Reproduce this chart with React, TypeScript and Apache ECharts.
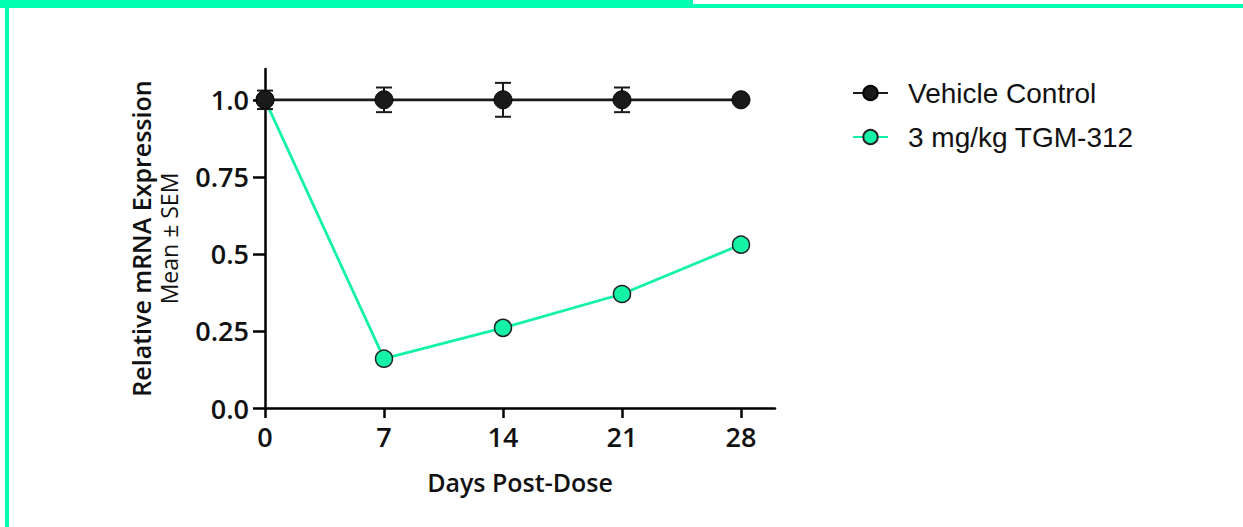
import React, { useEffect, useRef } from "react";
import * as echarts from "echarts";

const days = [0, 7, 14, 21, 28];
const xTickLabels = ["0", "7", "14", "21", "28"];
const yTickValues = [0, 0.25, 0.5, 0.75, 1.0];
const yTickLabels = ["0.0", "0.25", "0.5", "0.75", "1.0"];
const vehicleMean = [1.0, 1.0, 1.0, 1.0, 1.0];
const vehicleSEM = [0.03, 0.04, 0.055, 0.04, 0.0];
const tgmMean = [1.0, 0.16, 0.26, 0.37, 0.53];
const seriesNames = ["Vehicle Control", "3 mg/kg TGM-312"];

const GREEN = "#00FFB0";
const LINE_GREEN = "#14F2A6";
const DARK = "#1a1a1a";
const FONT = "Open Sans";

export default function App() {
  const ref = useRef<HTMLDivElement>(null);
  useEffect(() => {
    if (!ref.current) return;
    const chart = echarts.init(ref.current, null, { renderer: "svg" });
    const axisLineStyle = { color: "#000", width: 2.5 };
    chart.setOption({
      animation: false,
      backgroundColor: "#fff",
      graphic: [
        { type: "rect", shape: { x: 0, y: 0, width: 693, height: 8 }, style: { fill: GREEN }, silent: true },
        { type: "rect", shape: { x: 693, y: 4, width: 550, height: 4 }, style: { fill: GREEN }, silent: true },
        { type: "rect", shape: { x: 5, y: 0, width: 4, height: 527 }, style: { fill: GREEN }, silent: true },
      ],
      grid: { left: 265, right: 468, top: 69, bottom: 119, containLabel: false },
      legend: {
        orient: "vertical",
        left: 852,
        top: 79,
        padding: 0,
        itemWidth: 35,
        itemHeight: 18,
        itemGap: 16,
        data: seriesNames,
        textStyle: { fontFamily: "Liberation Sans", fontSize: 28, color: "#111", lineHeight: 28, padding: [0, 0, 0, 15] },
      },
      xAxis: {
        type: "value",
        min: 0,
        max: 30,
        name: "Days Post-Dose",
        nameLocation: "middle",
        nameGap: 61,
        nameTextStyle: { fontFamily: FONT, fontSize: 25, fontWeight: 600, color: "#111" },
        axisLine: { lineStyle: axisLineStyle, onZero: false },
        axisTick: { length: 10, lineStyle: axisLineStyle, customValues: days },
        axisLabel: {
          customValues: days,
          margin: 15,
          fontFamily: FONT,
          fontSize: 27,
          fontWeight: 600,
          color: "#111",
          formatter: (v: number) => xTickLabels[days.indexOf(v)] ?? "",
        },
        splitLine: { show: false },
      },
      yAxis: {
        type: "value",
        min: 0,
        max: 1.1,
        name: "{a|Relative mRNA Expression}\n{b|Mean ± SEM}",
        nameLocation: "middle",
        nameGap: 82,
        nameTextStyle: {
          rich: {
            a: { fontFamily: FONT, fontSize: 25, fontWeight: 600, color: "#111", lineHeight: 29 },
            b: { fontFamily: FONT, fontSize: 23, color: "#111", lineHeight: 28 },
          },
        },
        axisLine: { show: true, lineStyle: axisLineStyle, onZero: false },
        axisTick: { show: true, length: 12, lineStyle: axisLineStyle, customValues: yTickValues },
        axisLabel: {
          customValues: yTickValues,
          margin: 16,
          fontFamily: FONT,
          fontSize: 27,
          fontWeight: 600,
          color: "#111",
          formatter: (v: number) => {
            const i = yTickValues.findIndex((t) => Math.abs(t - v) < 1e-9);
            return i >= 0 ? yTickLabels[i] : "";
          },
        },
        splitLine: { show: false },
      },
      series: [
        {
          name: seriesNames[1],
          type: "line",
          z: 2,
          data: days.map((d, i) => [d, tgmMean[i]]),
          symbol: "circle",
          symbolSize: 17,
          lineStyle: { color: LINE_GREEN, width: 2.8 },
          itemStyle: { color: LINE_GREEN, borderColor: "#222", borderWidth: 1.5 },
        },
        {
          name: seriesNames[0] + " SEM",
          type: "custom",
          z: 3,
          data: days.map((d, i) => [d, vehicleMean[i], vehicleSEM[i]]),
          renderItem: (params: any, api: any) => {
            const x = api.value(0);
            const y = api.value(1);
            const e = api.value(2);
            if (!e) return null;
            const top = api.coord([x, y + e]);
            const bot = api.coord([x, y - e]);
            const hw = 8;
            const st = { stroke: DARK, lineWidth: 2 };
            return {
              type: "group",
              children: [
                { type: "line", shape: { x1: top[0], y1: top[1], x2: bot[0], y2: bot[1] }, style: st },
                { type: "line", shape: { x1: top[0] - hw, y1: top[1], x2: top[0] + hw, y2: top[1] }, style: st },
                { type: "line", shape: { x1: bot[0] - hw, y1: bot[1], x2: bot[0] + hw, y2: bot[1] }, style: st },
              ],
            };
          },
        },
        {
          name: seriesNames[0],
          type: "line",
          z: 4,
          data: days.map((d, i) => [d, vehicleMean[i]]),
          symbol: "circle",
          symbolSize: 18,
          lineStyle: { color: DARK, width: 2.8 },
          itemStyle: { color: DARK, borderColor: "#000", borderWidth: 1 },
        },
      ],
    });
    return () => chart.dispose();
  }, []);
  return (
    <div
      ref={ref}
      style={{ position: "fixed", left: 0, top: 0, width: 1243, height: 527, background: "#fff" }}
    />
  );
}
